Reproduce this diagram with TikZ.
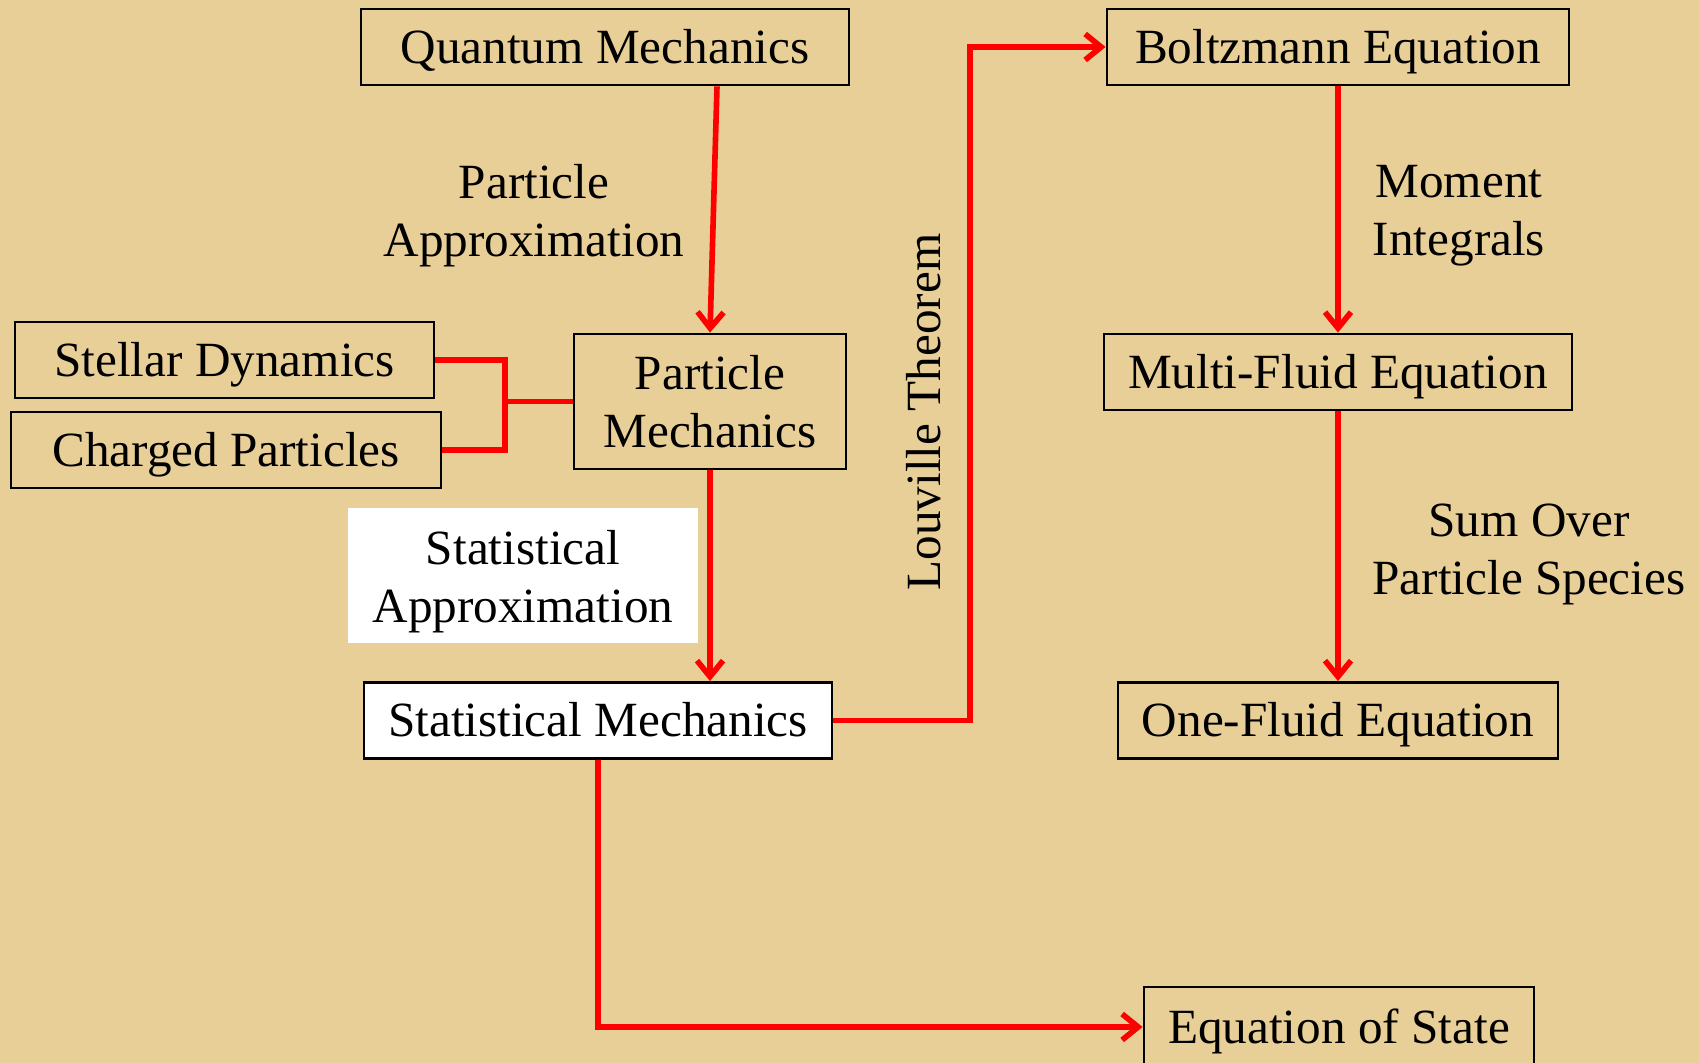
\documentclass[tikz,border=0pt]{standalone}
\usepackage{fontspec}
\setmainfont{Liberation Serif}
\usetikzlibrary{arrows.meta}

\definecolor{parchment}{RGB}{232,207,152}

\tikzset{
  box/.style={draw=black, line width=0.8pt, minimum height=7.6mm, inner sep=0pt, align=center},
  oneline/.style={box, text height=4.4mm, text depth=1.1mm},
  label/.style={align=center, inner sep=0pt},
  link/.style={draw=red, line width=1.6pt},
  flow/.style={link, -{Straight Barb[length=1.6mm,width=2.6mm]}},
}

\begin{document}
\begin{tikzpicture}[font=\fontsize{14}{16.5}\selectfont]
        % page and background
        \fill[parchment] (0,0) rectangle (16.99,-10.63);
        \useasboundingbox (0,0) rectangle (16.99,-10.63);
        % boxes
        \node[oneline, minimum width=4.88cm] (qm) at (6.05,-0.47) {Quantum Mechanics};
        \node[oneline, minimum width=4.62cm] (bo) at (13.38,-0.47) {Boltzmann Equation};
        \node[oneline, minimum width=4.19cm] (sd) at (2.245,-3.60) {Stellar Dynamics};
        \node[oneline, minimum width=4.30cm] (cp) at (2.26,-4.50) {Charged Particles};
        \node[box, minimum width=2.72cm, minimum height=1.35cm] (pm) at (7.10,-4.015) {Particle\\Mechanics};
        \node[oneline, minimum width=4.68cm] (mf) at (13.38,-3.72) {Multi-Fluid Equation};
        \node[oneline, fill=white, minimum width=4.68cm] (sm) at (5.98,-7.205) {Statistical Mechanics};
        \node[oneline, minimum width=4.40cm] (of) at (13.38,-7.205) {One-Fluid Equation};
        \node[oneline, minimum width=3.90cm, minimum height=0.80cm] (eos) at (13.39,-10.27) {Equation of State};
        % labels
        \fill[white] (3.48,-5.08) rectangle (6.98,-6.43);
        \node[label] (sa) at (5.23,-5.82) {Statistical\\Approximation};
        \node[label] (pa) at (5.34,-2.155) {Particle\\Approximation};
        \node[label] (mi) at (14.59,-2.155) {Moment\\Integrals};
        \node[label] (so) at (15.29,-5.54) {Sum Over\\Particle Species};
        \node[label, rotate=90] (lt) at (9.24,-4.12) {Louville Theorem};
        % connectors
        \coordinate (jn) at (5.05,-4.015);
        \coordinate (turn) at (9.70,0);
        \draw[link] (sd.east) -| (jn) |- (cp.east);
        \draw[link] (jn) -- (pm.west);
        \draw[flow] ([xshift=1.12cm]qm.south) -- (pm.north);
        \draw[flow] (pm.south) -- (pm.south |- sm.north);
        \draw[flow] (sm.east) -| (turn |- bo.west) -- (bo.west);
        \draw[flow] (bo.south) -- (mf.north);
        \draw[flow] (mf.south) -- (of.north);
        \draw[flow] (sm.south) |- (eos.west);
      \end{tikzpicture}
\end{document}
